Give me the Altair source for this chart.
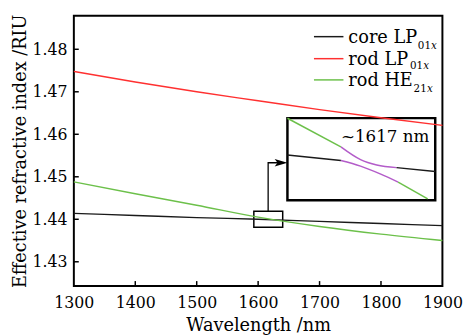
import altair as alt
import pandas as pd

# ---------------- data ----------------
wavelength = [1300, 1400, 1500, 1600, 1700, 1800, 1900]
core_lp01x = [1.4414, 1.4409, 1.4404, 1.4400, 1.4395, 1.4390, 1.4385]
rod_lp01x = [1.4748, 1.4723, 1.4700, 1.4679, 1.4658, 1.4639, 1.4621]
rod_he21x = [1.4488, 1.4460, 1.4433, 1.4405, 1.4383, 1.4365, 1.4350]

series_names = ["core LP01x", "rod LP01x", "rod HE21x"]
series_colors = ["#1a1a1a", "#ff3030", "#6cc04a"]

x_ticks = [1300, 1400, 1500, 1600, 1700, 1800, 1900]
y_ticks = [1.43, 1.44, 1.45, 1.46, 1.47, 1.48]
x_domain = [1300, 1900]
y_domain = [1.4243, 1.4879]

# zoom window around the crossing and where its enlargement is shown
zoom_x = [1593, 1640]
zoom_y = [1.4381, 1.4419]
inset_x = [1647.7, 1888.3]
inset_y = [1.4445, 1.4638]
arrow_x = [1616.3, 1616.3, 1641.0]
arrow_y = [1.4419, 1.4533, 1.4533]
label_text = "~1617 nm"
label_pos = [1878.7, 1.4582]

# enlarged (anti-crossing) curves inside the inset, in zoom-window units
inset_segments = [
    ("u1", "#6cc04a", [1593.0, 1610.0], [1.44190, 1.44057]),
    ("u2", "#b35cc9", [1610.0, 1616.25, 1621.4, 1627.7], [1.44057, 1.43998, 1.43973, 1.43961]),
    ("u3", "#1a1a1a", [1627.7, 1640.0], [1.43961, 1.43943]),
    ("l1", "#1a1a1a", [1593.0, 1610.0], [1.44020, 1.43994]),
    ("l2", "#b35cc9", [1610.0, 1616.25, 1622.5, 1628.2], [1.43994, 1.43968, 1.43932, 1.43894]),
    ("l3", "#6cc04a", [1628.2, 1637.6], [1.43894, 1.43816]),
]

# ---------------- layout ----------------
W, H = 375, 275
FONT = "DejaVu Serif"

rows = []
for name, vals in zip(series_names, [core_lp01x, rod_lp01x, rod_he21x]):
    for w, v in zip(wavelength, vals):
        rows.append({"wl": w, "n": v, "series": name})
df = pd.DataFrame(rows)

xs = alt.Scale(domain=x_domain, nice=False, zero=False)
ys = alt.Scale(domain=y_domain, nice=False, zero=False)
x_axis = alt.Axis(values=x_ticks, format="d", labelFont=FONT, labelFontSize=16,
                  labelColor="black", labelPadding=9, labelFlush=False, labelOverlap=False,
                  ticks=False, domain=False,
                  grid=False, title="Wavelength /nm", titleFont=FONT,
                  titleFontSize=18, titleFontWeight="normal", titleColor="black",
                  titlePadding=6)
y_axis = alt.Axis(values=y_ticks, format=".2f", labelFont=FONT, labelFontSize=16,
                  labelColor="black", labelPadding=7, labelFlush=False, labelOverlap=False,
                  ticks=False, domain=False,
                  grid=False, title="Effective refractive index /RIU", titleFont=FONT,
                  titleFontSize=18, titleFontWeight="normal", titleColor="black",
                  titlePadding=3, titleLimit=400)


def X(field, **kw):
    return alt.X(field, type="quantitative", scale=xs, axis=x_axis, **kw)


def Y(field, **kw):
    return alt.Y(field, type="quantitative", scale=ys, axis=y_axis, **kw)


lines = alt.Chart(df).mark_line(strokeWidth=1.4, interpolate="monotone").encode(
    x=X("wl"), y=Y("n"),
    color=alt.Color("series:N", scale=alt.Scale(domain=series_names, range=series_colors), legend=None),
)

xt = alt.Chart(pd.DataFrame({"t": x_ticks[1:-1]})).mark_rule(color="black", strokeWidth=1.5).encode(
    x=X("t"), y=alt.value(H), y2=alt.value(H - 5))
yt = alt.Chart(pd.DataFrame({"t": y_ticks})).mark_rule(color="black", strokeWidth=1.5).encode(
    y=Y("t"), x=alt.value(0), x2=alt.value(5))

boxes = pd.DataFrame({
    "x0": [zoom_x[0], inset_x[0]], "x1": [zoom_x[1], inset_x[1]],
    "y0": [zoom_y[0], inset_y[0]], "y1": [zoom_y[1], inset_y[1]],
    "w": [1.5, 2.5],
})
rects = alt.Chart(boxes).mark_rect(fillOpacity=0, stroke="black").encode(
    x=X("x0"), x2="x1", y=Y("y0"), y2="y1",
    strokeWidth=alt.StrokeWidth("w:Q", scale=None))

arrow = alt.Chart(pd.DataFrame({"x": arrow_x, "y": arrow_y, "o": [0, 1, 2]})).mark_line(
    color="black", strokeWidth=1.3).encode(x=X("x"), y=Y("y"), order="o:Q")
head = alt.Chart(pd.DataFrame({"x": [inset_x[0]], "y": [arrow_y[-1]]})).mark_point(
    shape="M -1 -0.6 L 1 0 L -1 0.6 L -0.55 0 Z", size=169, filled=True,
    color="black", opacity=1, xOffset=-6.5).encode(x=X("x"), y=Y("y"))

label = alt.Chart(pd.DataFrame({"x": [label_pos[0]], "y": [label_pos[1]], "t": [label_text]})).mark_text(
    font=FONT, fontSize=17, align="right", baseline="alphabetic", color="black").encode(
    x=X("x"), y=Y("y"), text="t:N")

# manual legend with subscripts
leg_rows = [
    ("core LP", "01", 21.3, 350.0, 33.7),
    ("rod LP", "01", 43.7, 342.0, 54.3),
    ("rod HE", "21", 65.3, 345.7, 78.0),
]
legend_layers = []
for (main, sub, ly, sx, sy), col in zip(leg_rows, series_colors):
    legend_layers.append(alt.Chart(pd.DataFrame({"a": [0]})).mark_rule(color=col, strokeWidth=1.5).encode(
        x=alt.value(244.3), x2=alt.value(274.3), y=alt.value(ly)))
    legend_layers.append(alt.Chart(pd.DataFrame({"t": [main]})).mark_text(
        font=FONT, fontSize=18, align="left", baseline="alphabetic", color="black").encode(
        x=alt.value(279.3), y=alt.value(ly + 6.4), text="t:N"))
    legend_layers.append(alt.Chart(pd.DataFrame({"t": [sub]})).mark_text(
        font=FONT, fontSize=10.5, align="left", baseline="alphabetic", color="black").encode(
        x=alt.value(sx), y=alt.value(sy), text="t:N"))
    legend_layers.append(alt.Chart(pd.DataFrame({"t": ["x"]})).mark_text(
        font=FONT, fontSize=10.5, fontStyle="italic", align="left", baseline="alphabetic", color="black").encode(
        x=alt.value(sx + 13.5), y=alt.value(sy), text="t:N"))

main = alt.layer(rects, lines, xt, yt, arrow, head, label, *legend_layers)

irows = []
for seg, col, xsg, ysg in inset_segments:
    for a, b in zip(xsg, ysg):
        irows.append({"wl": a, "n": b, "seg": seg, "col": col})
idf = pd.DataFrame(irows)
inset = alt.Chart(idf).mark_line(strokeWidth=1.5, interpolate="monotone").encode(
    x=alt.X("wl:Q", scale=alt.Scale(domain=zoom_x, range=[217.3, 367.7], nice=False, zero=False), axis=None),
    y=alt.Y("n:Q", scale=alt.Scale(domain=zoom_y, range=[187.7, 104.3], nice=False, zero=False), axis=None),
    color=alt.Color("col:N", scale=None),
    detail="seg:N",
)

chart = alt.layer(main, inset).resolve_scale(
    x="independent", y="independent", color="independent"
).properties(
    width=W, height=H,
    autosize=alt.AutoSizeParams(type="none"),
    padding={"left": 67, "top": 5, "right": 24, "bottom": 47},
).configure_view(stroke="black", strokeWidth=2)

chart.save("out.html", embed_options={"renderer": "svg", "actions": False})
